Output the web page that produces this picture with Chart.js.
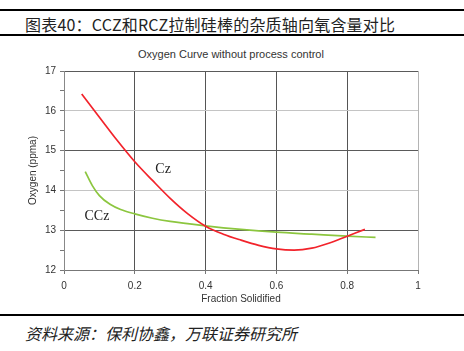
<!DOCTYPE html>
<html>
<head>
<meta charset="utf-8">
<script src="https://cdn.jsdelivr.net/npm/chart.js@4/dist/chart.umd.min.js"></script>
<style>
    body { margin: 0; background: #fff; width: 464px; height: 351px; position: relative; overflow: hidden; }
    .rule { position: absolute; left: 0; width: 464px; height: 2px; background: #000; }
    #head { position: absolute; left: 25px; top: 12px; font: 16px "Noto Sans CJK SC"; color: #222; white-space: nowrap; letter-spacing: 0.2px; }
    #plotTitle { position: absolute; left: 0; width: 462px; top: 48px; text-align: center; font: 11px "Liberation Sans", Arial; color: #333; }
    #source { position: absolute; left: 25px; top: 321px; font: italic 16px "Noto Sans CJK SC"; color: #222; white-space: nowrap; }
    #wrap { position: absolute; left: 0; top: 40px; width: 464px; height: 272px; }
</style>
</head>
<body>
<div class="rule" style="top:9px"></div>
<div id="head">图表40：CCZ和RCZ拉制硅棒的杂质轴向氧含量对比</div>
<div class="rule" style="top:34px"></div>
<div id="plotTitle">Oxygen Curve without process control</div>
<div id="wrap"><canvas id="oxygenChart" width="464" height="272"></canvas></div>
<div class="rule" style="top:314px"></div>
<div id="source">资料来源：保利协鑫，万联证券研究所</div>

<script>
// values
const czX = [0.05, 0.10, 0.15, 0.20, 0.25, 0.30, 0.35, 0.40, 0.45, 0.50, 0.55, 0.60, 0.65, 0.70, 0.75, 0.80, 0.85];
const czY = [16.42, 15.84, 15.26, 14.72, 14.25, 13.80, 13.41, 13.10, 12.90, 12.75, 12.62, 12.53, 12.50, 12.55, 12.68, 12.85, 13.02];

const cczX = [0.06, 0.08, 0.10, 0.13, 0.16, 0.20, 0.25, 0.30, 0.40, 0.50, 0.60, 0.70, 0.80, 0.88];
const cczY = [14.47, 14.12, 13.87, 13.65, 13.52, 13.41, 13.30, 13.22, 13.11, 13.02, 12.95, 12.90, 12.85, 12.82];

const curveNames = ["Cz", "CCz"];
const nameX = [0.28, 0.093];
const nameY = [14.54, 13.36];

const xTicks = [0, 0.2, 0.4, 0.6, 0.8, 1];
const yTicks = [12, 13, 14, 15, 16, 17];

const toPoints = (xs, ys) => xs.map((x, i) => ({ x: x, y: ys[i] }));

// writes Cz / CCz next to the curves
const curveNamePlugin = {
    id: "curveNames",
    afterDatasetsDraw(chart) {
        const { ctx, scales } = chart;
        ctx.save();
        ctx.font = '14px "Liberation Serif", "DejaVu Serif", serif';
        ctx.fillStyle = "#222";
        ctx.textAlign = "center";
        ctx.textBaseline = "middle";
        curveNames.forEach((name, i) => {
            ctx.fillText(name, scales.x.getPixelForValue(nameX[i]), scales.y.getPixelForValue(nameY[i]));
        });
        ctx.restore();
    },
};

Chart.defaults.font.family = '"Liberation Sans", Arial, sans-serif';
Chart.defaults.color = "#333";

const ctx = document.getElementById("oxygenChart").getContext("2d");
new Chart(ctx, {
    type: "scatter",
    data: {
        datasets: [
            {
                label: "Cz",
                data: toPoints(czX, czY),
                showLine: true,
                borderColor: "#f2232b",
                borderWidth: 1.7,
                pointRadius: 0,
                cubicInterpolationMode: "monotone",
            },
            {
                label: "CCz",
                data: toPoints(cczX, cczY),
                showLine: true,
                borderColor: "#8cc63f",
                borderWidth: 1.7,
                pointRadius: 0,
                cubicInterpolationMode: "monotone",
            },
        ],
    },
    options: {
        responsive: false,
        animation: false,
        layout: { padding: { top: 31, right: 46, left: 0, bottom: 0 } },
        plugins: {
            legend: { display: false },
            tooltip: { enabled: false },
        },
        scales: {
            x: {
                type: "linear",
                min: 0,
                max: 1,
                afterFit: (scale) => { scale.height = 42; },
                afterBuildTicks: (scale) => { scale.ticks = xTicks.map((v) => ({ value: v })); },
                ticks: {
                    font: { size: 10 },
                    padding: 6,
                    callback: (v) => String(v),
                },
                grid: {
                    color: (c) => {
                        const v = c.tick ? c.tick.value : 0;
                        if (v === 0) return "rgba(0,0,0,0)";
                        if (v === 1) return "#b4b4b4";
                        return "#555";
                    },
                    tickColor: "#777",
                    tickLength: 4,
                },
                border: { color: "#777", width: 1 },
                title: {
                    display: true,
                    text: "Fraction Solidified",
                    font: { size: 10 },
                    padding: { top: 0, bottom: 7 },
                },
            },
            y: {
                min: 12,
                max: 17,
                afterFit: (scale) => { scale.width = 64; },
                ticks: {
                    stepSize: 0.5,
                    autoSkip: false,
                    font: { size: 10 },
                    padding: 4,
                    callback: (v) => (yTicks.includes(v) ? String(v) : ""),
                },
                grid: {
                    color: (c) => {
                        const v = c.tick ? c.tick.value : 12;
                        if (!Number.isInteger(v) || v === 12) return "rgba(0,0,0,0)";
                        if (v === 14 || v === 16) return "#c4c4c4";
                        return "#5a5a5a";
                    },
                    tickColor: "#777",
                    tickLength: 4,
                },
                border: { color: "#888", width: 1 },
                title: {
                    display: true,
                    text: "Oxygen (ppma)",
                    font: { size: 10 },
                    padding: { top: 27, bottom: 0 },
                },
            },
        },
    },
    plugins: [curveNamePlugin],
});
</script>
</body>
</html>
